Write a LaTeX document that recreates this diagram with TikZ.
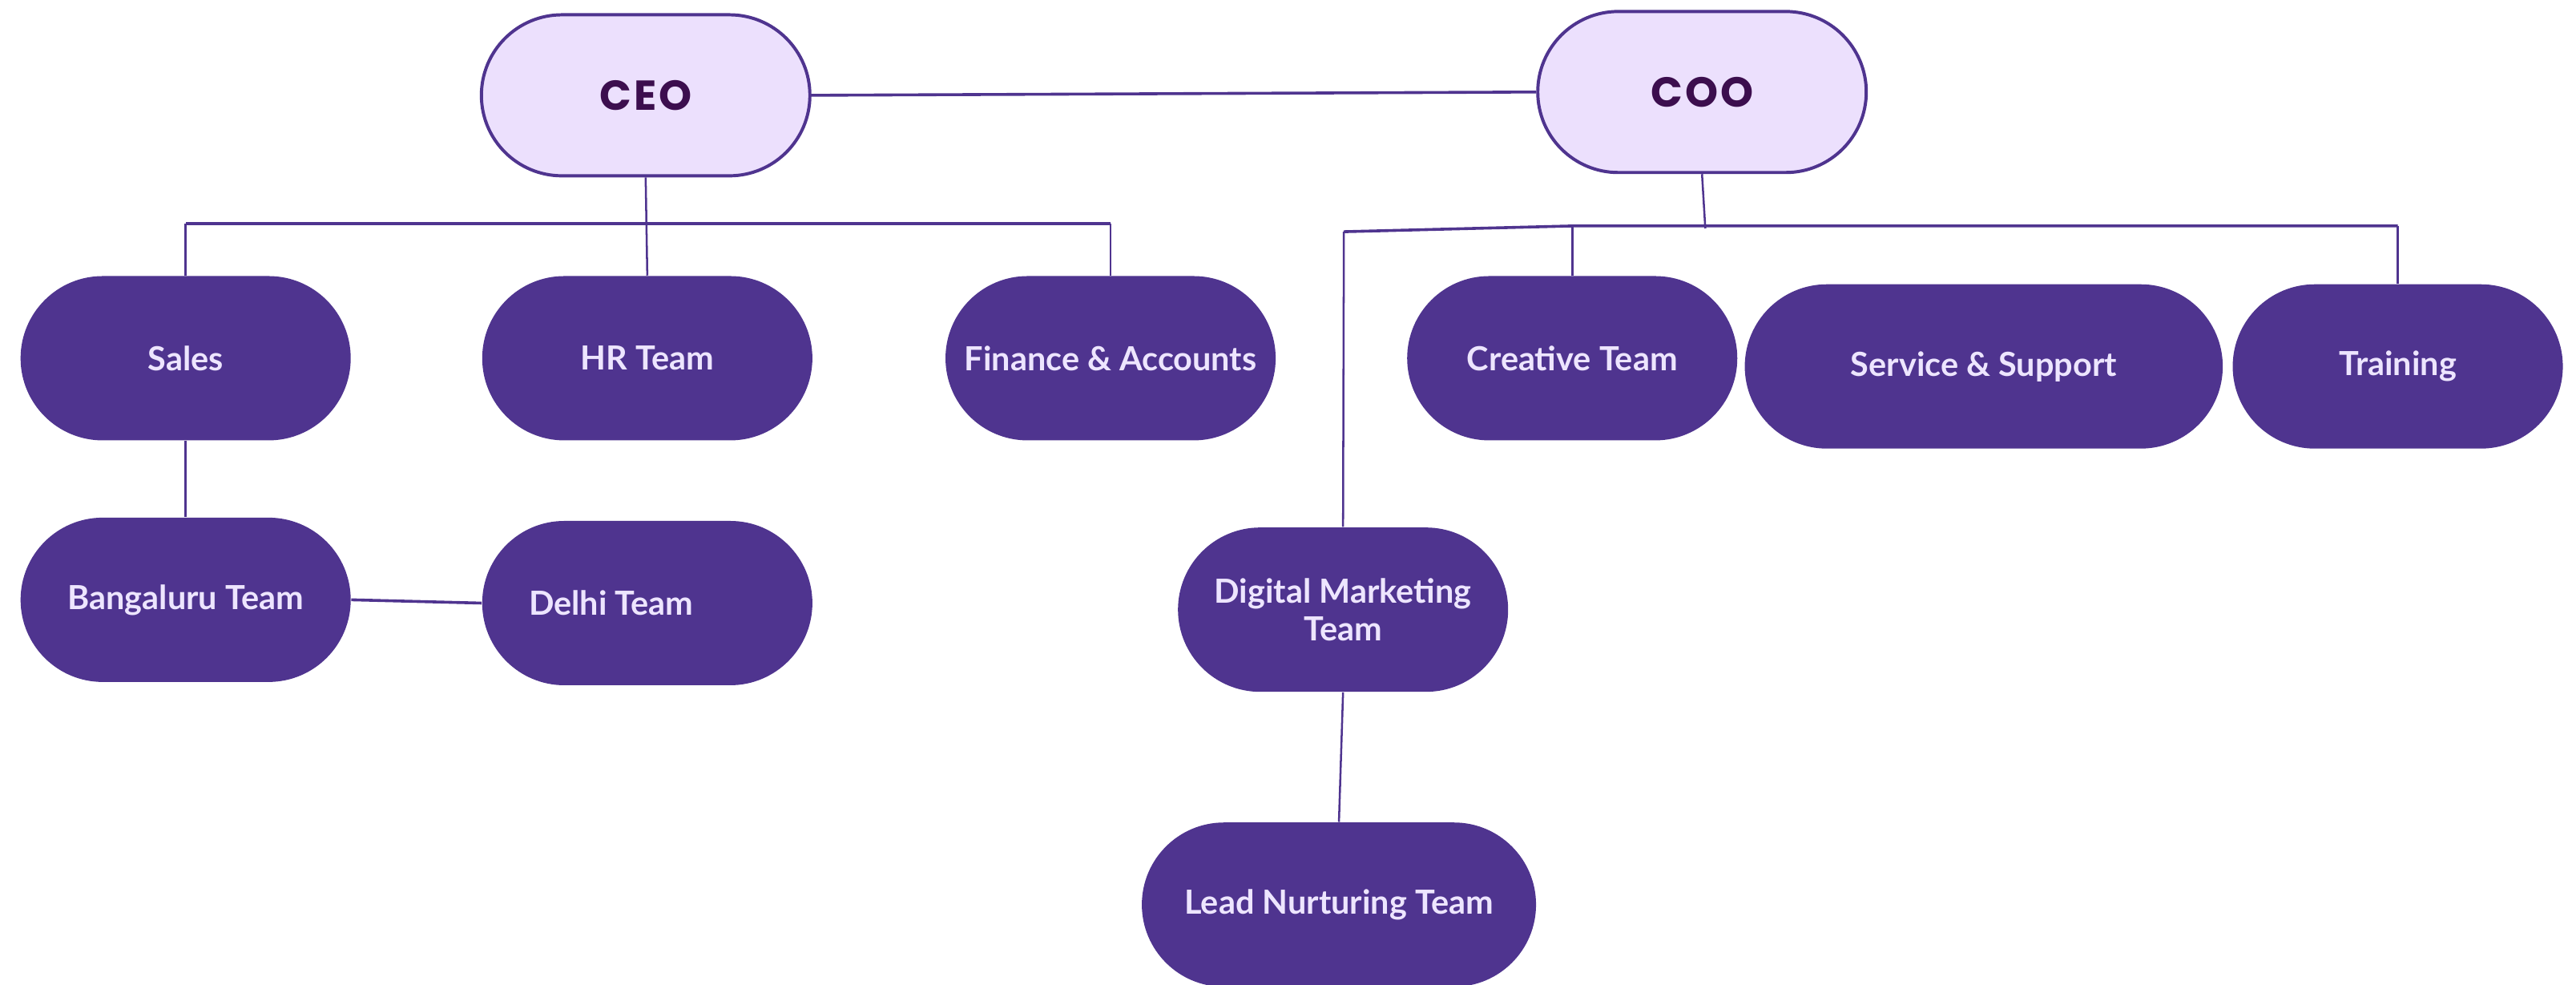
\documentclass[tikz,border=0pt]{standalone}
\usepackage{fontspec}
\setmainfont{Lato}
\newfontfamily\headfont[LetterSpace=6]{Poppins}
\definecolor{deep}{RGB}{79,52,143}
\definecolor{pale}{RGB}{236,224,253}
\definecolor{ink}{RGB}{60,14,78}
\definecolor{soft}{RGB}{237,229,255}
\tikzstyle{head}=[rectangle,rounded corners=0.98cm,draw=deep,line width=1.1pt,fill=pale,minimum width=4cm,minimum height=1.96cm,inner sep=0pt,text=ink,font=\headfont\bfseries\fontsize{14.5}{17}\selectfont]
\tikzstyle{team}=[rectangle,rounded corners=1cm,fill=deep,minimum width=4.02cm,minimum height=2cm,inner sep=0pt,text=soft,align=center,font=\bfseries\fontsize{11.5}{13}\selectfont]
\tikzstyle{link}=[draw=deep,line width=0.7pt]
\tikzstyle{bus}=[draw=deep,line width=1pt]

\begin{document}
\begin{tikzpicture}[x=0.02cm,y=-0.02cm]
\useasboundingbox (0,0) rectangle (1568,599.4);
\node[head] at (393, 58) (ceo) {CEO};
\node[head] at (1036, 56) (coo) {COO};
\node[team] at (113, 218) (sales) {Sales};
\node[team] at (394, 218) (hr) {HR Team};
\node[team] at (676, 218) (fin) {Finance \& Accounts};
\node[team] at (113, 365) (blr) {Bangaluru Team};
\node[team] at (394, 367) (delhi) {Delhi Team\hspace*{0.88cm}};
\node[team] at (957, 218) (creative) {Creative Team};
\node[team, minimum width=5.82cm] at (1207.5, 223) (service) {Service \& Support};
\node[team] at (1459.5, 223) (training) {Training};
\node[team] at (817.5, 371) (digital) {Digital Marketing\\Team};
\node[team, minimum width=4.8cm] at (815, 550.5) (lead) {Lead Nurturing Team};
\coordinate (ceobus) at (393, 136);
\coordinate (coobus) at (1037, 137.5);
\coordinate (cooend) at (1038, 139);
\coordinate (dmtbus) at (818, 141);
\draw[bus] (ceo.east) -- (coo.west);
\draw[link] (ceo.south) -- (hr.north);
\draw[bus] (sales.north |- ceobus) -- (fin.north |- ceobus);
\draw[link] (sales.north |- ceobus) -- (sales.north);
\draw[link] (fin.north |- ceobus) -- (fin.north);
\draw[link] (sales.south) -- (blr.north);
\draw[bus] (blr.east) -- (delhi.west);
\draw[link] (coo.south) -- (cooend);
\draw[bus] (dmtbus) -- (creative.north |- coobus) -- (training.north |- coobus);
\draw[link] (dmtbus) -- (digital.north);
\draw[link] (creative.north |- coobus) -- (creative.north);
\draw[link] (training.north |- coobus) -- (training.north);
\draw[link] (digital.south) -- (lead.north);
\end{tikzpicture}
\end{document}
